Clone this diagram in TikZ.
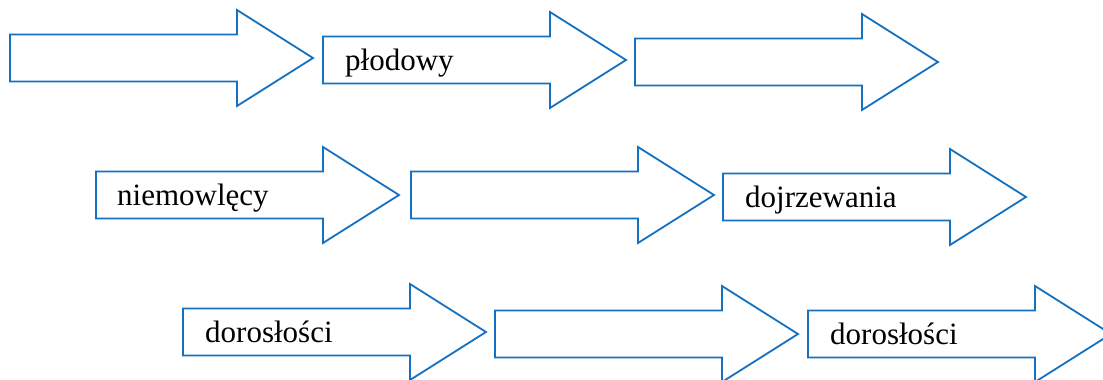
\documentclass[tikz,border=0pt]{standalone}
\usepackage{fontspec}
\setmainfont{Liberation Serif}
\definecolor{arrowblue}{RGB}{20,112,192}
\begin{document}
\begin{tikzpicture}[x=1pt,y=-1pt,
  arrowline/.style={draw=arrowblue,line width=1.8pt,line join=miter,fill=white},
  lbl/.style={anchor=base west,inner sep=0pt,font=\fontsize{31}{36}\selectfont},
  bigarrow/.pic={\path[arrowline] (0,-23.5) -- (227,-23.5) -- (227,-48) -- (303,0) -- (227,48) -- (227,23.5) -- (0,23.5) -- cycle;}]
\useasboundingbox (0,0) rectangle (1103,380);
\clip (0,0) rectangle (1103,380);
% row 1
\pic at (10,58) {bigarrow};
\pic at (323,60) {bigarrow};
\pic at (635,62) {bigarrow};
% row 2
\pic at (96,195) {bigarrow};
\pic at (411,195) {bigarrow};
\pic at (723,197) {bigarrow};
% row 3
\pic at (183,332) {bigarrow};
\pic at (495,334) {bigarrow};
\pic at (808,334) {bigarrow};
% labels
\node[lbl] (plodowy) at (345,70) {płodowy};
\node[lbl] (niemowlecy) at (117,205) {niemowlęcy};
\node[lbl] (dojrzewania) at (745,207) {dojrzewania};
\node[lbl] (dorosl1) at (205,342) {dorosłości};
\node[lbl] (dorosl2) at (830,344) {dorosłości};
\end{tikzpicture}
\end{document}
